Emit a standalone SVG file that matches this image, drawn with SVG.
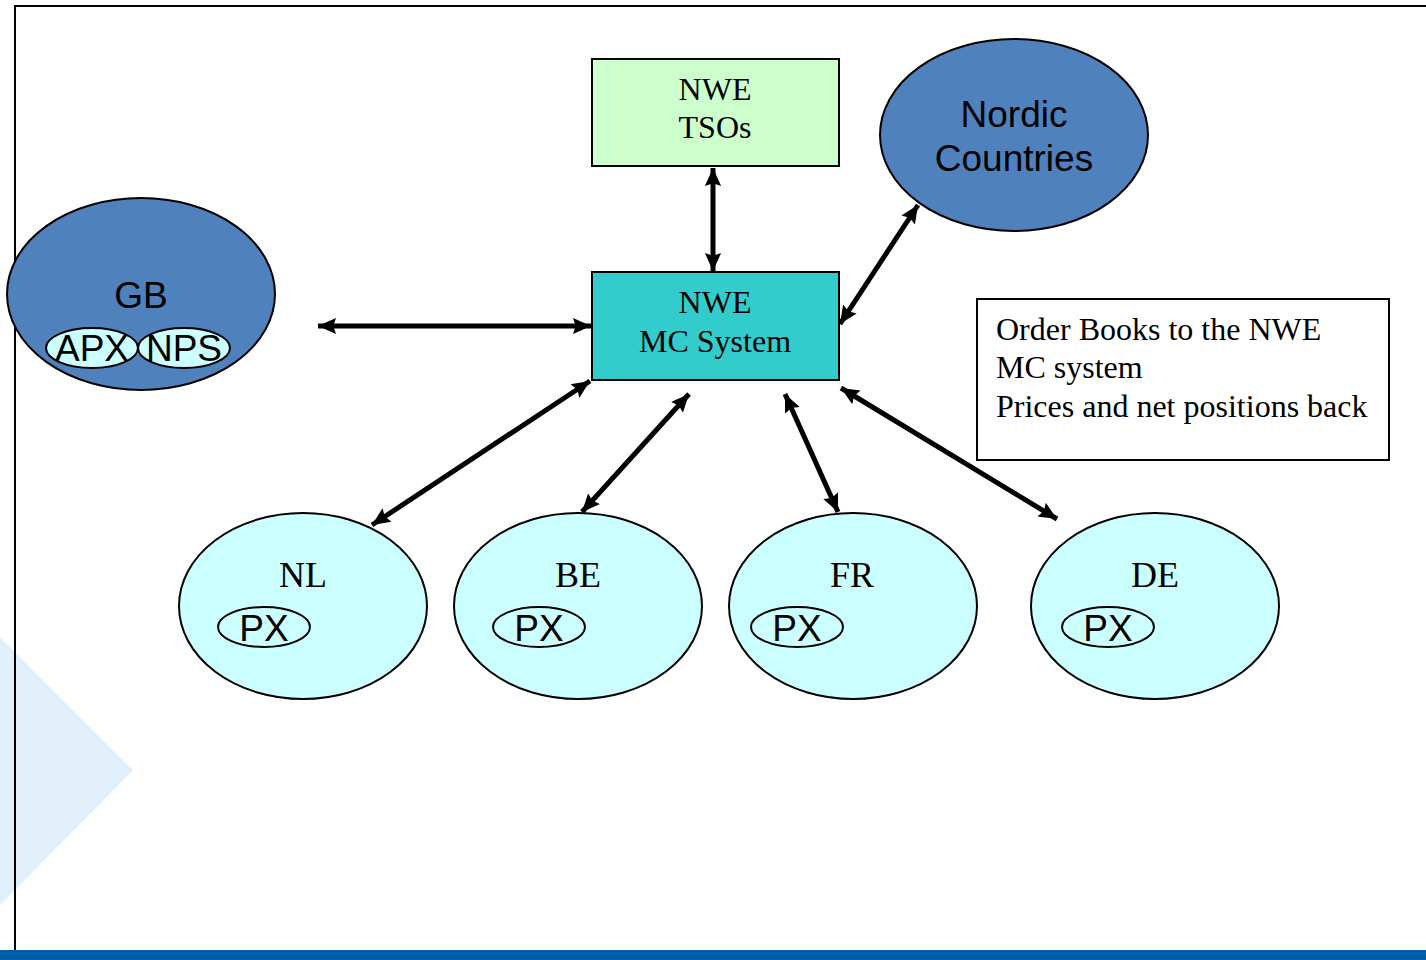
<svg xmlns="http://www.w3.org/2000/svg" width="1426" height="960" viewBox="0 0 1426 960">
<style>
.serif{font-family:"Liberation Serif","Times New Roman",serif;font-size:32px;fill:#000}
.sans{font-family:"Liberation Sans",Arial,sans-serif;font-size:37px;fill:#000}
.big{fill:#4f81bd;stroke:#000;stroke-width:2}
.country{fill:#ccffff;stroke:#000;stroke-width:2}
.px{fill:#ccffff;stroke:#000;stroke-width:2}
.lbl{font-size:36px}
.conn{stroke:#000;stroke-width:5;fill:none;marker-start:url(#ah);marker-end:url(#ah)}
</style>
<defs>
<marker id="ah" viewBox="0 0 10 10" refX="10" refY="5" markerWidth="18" markerHeight="18" markerUnits="userSpaceOnUse" orient="auto-start-reverse">
<path d="M0,0.5 L10,5 L0,9.5 L1.5,5 Z" fill="#000"/>
</marker>
</defs>
<rect width="1426" height="960" fill="#fff"/>
<polygon points="0,637 133,770 0,905" fill="#e0effa"/>
<line x1="14" y1="6" x2="1426" y2="6" stroke="#000" stroke-width="2"/>
<line x1="15" y1="5" x2="15" y2="960" stroke="#000" stroke-width="2"/>
<rect x="0" y="950" width="1426" height="10" fill="#005ea8"/>

<g id="connectors">
<line class="conn" x1="713" y1="168" x2="713" y2="271"/>
<line class="conn" x1="318" y1="326" x2="591" y2="326"/>
<line class="conn" x1="918" y1="205" x2="840" y2="324"/>
<line class="conn" x1="590" y1="381" x2="372" y2="525"/>
<line class="conn" x1="689" y1="394" x2="582" y2="512"/>
<line class="conn" x1="785" y1="394" x2="838" y2="512"/>
<line class="conn" x1="841" y1="388" x2="1057" y2="519"/>
</g>

<g id="tsos">
<rect x="592" y="59" width="247" height="107" fill="#ccffcc" stroke="#000" stroke-width="2"/>
<text class="serif" x="715" y="100" text-anchor="middle">NWE</text>
<text class="serif" x="715" y="138" text-anchor="middle">TSOs</text>
</g>

<g id="mc">
<rect x="592" y="272" width="247" height="108" fill="#33cccc" stroke="#000" stroke-width="2"/>
<text class="serif" x="715" y="313" text-anchor="middle">NWE</text>
<text class="serif" x="715" y="352" text-anchor="middle">MC System</text>
</g>

<g id="nordic">
<ellipse class="big" cx="1014" cy="135" rx="134" ry="96"/>
<text class="sans" x="1014" y="127" text-anchor="middle">Nordic</text>
<text class="sans" x="1014" y="171" text-anchor="middle">Countries</text>
</g>

<g id="gb">
<ellipse class="big" cx="141" cy="294" rx="134" ry="96"/>
<text class="sans" x="141" y="308" text-anchor="middle">GB</text>
<ellipse class="px" cx="92" cy="348" rx="46" ry="20"/>
<text class="sans" x="92" y="361" text-anchor="middle">APX</text>
<ellipse class="px" cx="184" cy="348" rx="46" ry="20"/>
<text class="sans" x="184" y="361" text-anchor="middle">NPS</text>
</g>

<g id="legend">
<rect x="977" y="299" width="412" height="161" fill="#fff" stroke="#000" stroke-width="2"/>
<text class="serif" x="996" y="340">Order Books to the NWE</text>
<text class="serif" x="996" y="378">MC system</text>
<text class="serif" x="996" y="417">Prices and net positions back</text>
</g>

<g id="nl">
<ellipse class="country" cx="303" cy="606" rx="124" ry="93"/>
<text class="serif lbl" x="303" y="587" text-anchor="middle">NL</text>
<ellipse class="px" cx="264" cy="627" rx="46" ry="20"/>
<text class="sans" x="264" y="641" text-anchor="middle">PX</text>
</g>

<g id="be">
<ellipse class="country" cx="578" cy="606" rx="124" ry="93"/>
<text class="serif lbl" x="578" y="587" text-anchor="middle">BE</text>
<ellipse class="px" cx="539" cy="627" rx="46" ry="20"/>
<text class="sans" x="539" y="641" text-anchor="middle">PX</text>
</g>

<g id="fr">
<ellipse class="country" cx="853" cy="606" rx="124" ry="93"/>
<text class="serif lbl" x="852" y="587" text-anchor="middle">FR</text>
<ellipse class="px" cx="797" cy="627" rx="46" ry="20"/>
<text class="sans" x="797" y="641" text-anchor="middle">PX</text>
</g>

<g id="de">
<ellipse class="country" cx="1155" cy="606" rx="124" ry="93"/>
<text class="serif lbl" x="1155" y="587" text-anchor="middle">DE</text>
<ellipse class="px" cx="1108" cy="627" rx="46" ry="20"/>
<text class="sans" x="1108" y="641" text-anchor="middle">PX</text>
</g>
</svg>
